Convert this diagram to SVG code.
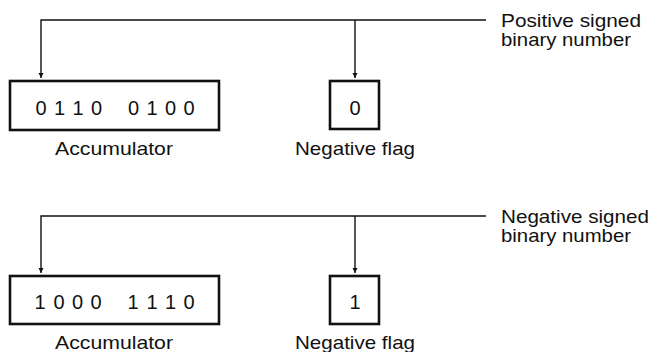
<svg xmlns="http://www.w3.org/2000/svg" width="659" height="352" viewBox="0 0 659 352">
<defs>
<marker id="arr" viewBox="0 0 10 10" refX="10" refY="5" markerWidth="5" markerHeight="9" markerUnits="userSpaceOnUse" orient="auto">
<path d="M0,0 L10,5 L0,10 z" fill="#111"/>
</marker>
<style>
.box{fill:#fff;stroke:#111;stroke-width:2.6}
.ln{fill:none;stroke:#111;stroke-width:1.4}
.t{font-family:"Liberation Sans",Arial,Helvetica,sans-serif;font-size:19px;fill:#111}
.d{font-family:"Liberation Sans",Arial,Helvetica,sans-serif;font-size:20px;fill:#111;text-anchor:middle}
</style>
</defs>
<rect width="659" height="352" fill="#fff"/>
<g id="connectors">
<path class="ln" d="M486,20 H41 V78" marker-end="url(#arr)"/>
<path class="ln" d="M355,20 V78" marker-end="url(#arr)"/>
<path class="ln" d="M486,216 H41 V273" marker-end="url(#arr)"/>
<path class="ln" d="M355,216 V273" marker-end="url(#arr)"/>
</g>
<g id="label-positive">
<text class="t" x="501" y="27" textLength="140" lengthAdjust="spacingAndGlyphs">Positive signed</text>
<text class="t" x="501" y="46" textLength="130" lengthAdjust="spacingAndGlyphs">binary number</text>
</g>
<g id="acc-top">
<rect class="box" x="10" y="81" width="209" height="49"/>
<text class="d" x="41 59.5 78 96.5 115 133.5 152 170.5 189" y="115">0110 0100</text>
<text class="t" x="114" y="155" text-anchor="middle" textLength="118" lengthAdjust="spacingAndGlyphs">Accumulator</text>
</g>
<g id="flag-top">
<rect class="box" x="330" y="81" width="49" height="48"/>
<text class="d" x="355" y="115">0</text>
<text class="t" x="355" y="155" text-anchor="middle" textLength="120" lengthAdjust="spacingAndGlyphs">Negative flag</text>
</g>
<g id="label-negative">
<text class="t" x="501" y="223" textLength="148" lengthAdjust="spacingAndGlyphs">Negative signed</text>
<text class="t" x="501" y="242" textLength="130" lengthAdjust="spacingAndGlyphs">binary number</text>
</g>
<g id="acc-bottom">
<rect class="box" x="10" y="276" width="209" height="48"/>
<text class="d" x="40 59 77.5 96 114.5 133 152 170.5 189" y="309">1000 1110</text>
<text class="t" x="114" y="349" text-anchor="middle" textLength="118" lengthAdjust="spacingAndGlyphs">Accumulator</text>
</g>
<g id="flag-bottom">
<rect class="box" x="330" y="276" width="49" height="48"/>
<text class="d" x="355" y="309">1</text>
<text class="t" x="355" y="349" text-anchor="middle" textLength="120" lengthAdjust="spacingAndGlyphs">Negative flag</text>
</g>
</svg>
